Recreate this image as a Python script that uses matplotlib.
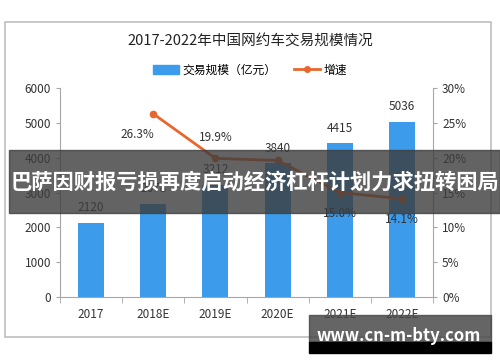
import matplotlib
matplotlib.use('Agg')
import matplotlib.pyplot as plt
from matplotlib.patches import Rectangle
from matplotlib.lines import Line2D

plt.rcParams['font.family'] = ['Noto Sans CJK SC', 'DejaVu Sans']

# Данные
years = ['2017', '2018E', '2019E', '2020E', '2021E', '2022E']
scale = [2120, 2678, 3212, 3840, 4415, 5036]  # 交易规模, 亿元
growth = [None, 26.3, 19.9, 19.6, 15.0, 14.1]  # 增速, %
growth_labels = ['', '26.3%', '19.9%', '', '15.0%', '14.1%']

bar_color = '#3d9bec'
line_color = '#e9672e'
grey = '#a6a6a6'

fig = plt.figure(figsize=(5, 3.62), dpi=100)

# рамка графика
fig.patches.append(Rectangle((5 / 500, 1 - 337 / 362), 486 / 500, 315 / 362,
                             transform=fig.transFigure, fill=False,
                             edgecolor='#bfbfbf', linewidth=1.2))

ax = fig.add_axes([0.12, 1 - 297 / 362, 0.746, 209 / 362])
x = list(range(len(years)))
ax.bar(x, scale, width=0.42, color=bar_color, zorder=2)
for xi, v in zip(x, scale):
    ax.text(xi, v + 250, str(v), ha='center', va='bottom', fontsize=8.5, color='#333333')

ax.set_xlim(-0.5, len(years) - 0.5)
ax.set_ylim(0, 6000)
ax.set_yticks(range(0, 6001, 1000))
ax.set_xticks(x)
ax.set_xticklabels(years)
ax.set_xticks([i + 0.5 for i in range(-1, len(years))], minor=True)
ax.tick_params(axis='x', which='major', length=0, pad=8, labelsize=8.5, labelcolor='#333333')
ax.tick_params(axis='x', which='minor', length=4, color=grey)
ax.tick_params(axis='y', length=3, color=grey, labelsize=8.5, labelcolor='#333333')
for s in ['left', 'bottom']:
    ax.spines[s].set_color(grey)
ax.spines['top'].set_visible(False)
ax.spines['right'].set_visible(False)

ax2 = ax.twinx()
gx = [xi for xi, g in zip(x, growth) if g is not None]
gy = [g for g in growth if g is not None]
ax2.plot(gx, gy, color=line_color, linewidth=2, marker='o', markersize=4.5, zorder=3)
ax2.set_ylim(0, 30)
ax2.set_yticks(range(0, 31, 5))
ax2.set_yticklabels([f'{v}%' for v in range(0, 31, 5)])
ax2.tick_params(axis='y', length=3, color=grey, labelsize=8.5, labelcolor='#333333')
ax2.spines['right'].set_color(grey)
for s in ['top', 'left', 'bottom']:
    ax2.spines[s].set_visible(False)

label_offsets = {1: (-0.25, -3.0), 2: (0.0, 3.0), 4: (0.0, -3.0), 5: (0.0, -3.0)}
for i, lab in enumerate(growth_labels):
    if lab:
        dx, dy = label_offsets[i]
        ax2.text(i + dx, growth[i] + dy, lab, ha='center', va='center',
                 fontsize=8.5, color='#333333')

fig.text(0.5, 1 - 42 / 362, '2017-2022年中国网约车交易规模情况', ha='center', va='center',
         fontsize=10.5, color='#222222')

handles = [Rectangle((0, 0), 1, 1, color=bar_color),
           Line2D([], [], color=line_color, linewidth=2, marker='o', markersize=4)]
fig.legend(handles, ['交易规模（亿元）', '增速'], loc='center', ncol=2,
           bbox_to_anchor=(0.5, 1 - 70 / 362), frameon=False, fontsize=8.5,
           handlelength=2.2, columnspacing=1.5, handletextpad=0.3)

# баннер поверх графика
fig.patches.append(Rectangle((9 / 500, 1 - 213 / 362), 491 / 500, 63 / 362,
                             transform=fig.transFigure, color='#3c3c3c', alpha=0.8, zorder=10))
fig.text(255 / 500, 1 - 182 / 362, '巴萨因财报亏损再度启动经济杠杆计划力求扭转困局',
         ha='center', va='center', fontsize=15.3, fontweight='bold', color='white', zorder=11)

# водяной знак сайта
fig.patches.append(Rectangle((309 / 500, 1 - 342 / 362), 182 / 500, 27 / 362,
                             transform=fig.transFigure, color='#4a4a4a', alpha=0.85, zorder=10))
fig.patches.append(Rectangle((309 / 500, 1 - 353 / 362), 182 / 500, 11 / 362,
                             transform=fig.transFigure, color='black', zorder=10))
fig.text(399 / 500, 1 - 336 / 362, 'www.cn-m-bty.com', ha='center', va='center',
         fontsize=12, fontweight='bold', color='white', zorder=11)

fig.savefig('out.png', dpi=100)
